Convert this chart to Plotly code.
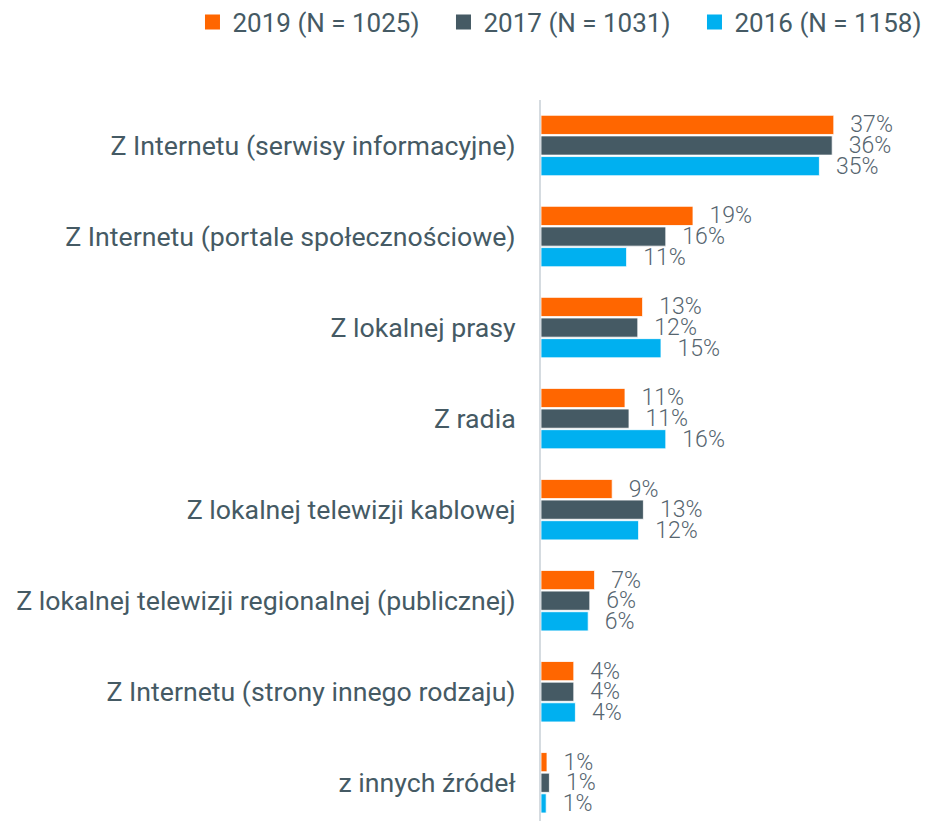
import plotly.graph_objects as go

categories = [
    "Z Internetu (serwisy informacyjne)",
    "Z Internetu (portale społecznościowe)",
    "Z lokalnej prasy",
    "Z radia",
    "Z lokalnej telewizji kablowej",
    "Z lokalnej telewizji regionalnej (publicznej)",
    "Z Internetu (strony innego rodzaju)",
    "z innych źródeł",
]
series_names = ["2019 (N = 1025)", "2017 (N = 1031)", "2016 (N = 1158)"]
v2019 = [36.6, 19.0, 12.7, 10.5, 8.9, 6.7, 4.1, 0.75]
v2017 = [36.4, 15.6, 12.1, 11.0, 12.8, 6.1, 4.1, 1.05]
v2016 = [34.8, 10.7, 15.0, 15.6, 12.2, 5.9, 4.3, 0.65]
colors = ["#ff6600", "#455a64", "#00b0f0"]

TEXT = "#455a64"
fig = go.Figure()
for name, vals, col in zip(series_names, [v2019, v2017, v2016], colors):
    fig.add_trace(go.Bar(
        y=categories, x=vals, orientation="h", name=name,
        marker=dict(color=col, line=dict(color="white", width=0.8)),
        texttemplate="\u00a0\u00a0\u200a%{x:.0f}%", textposition="outside",
        constraintext="none",
        outsidetextfont=dict(family="Roboto", size=23, color="#56656f", weight=300),
        cliponaxis=False, showlegend=False,
    ))
for name, col in zip(series_names, colors):
    fig.add_trace(go.Scatter(
        x=[None], y=[None], mode="markers", name=name,
        marker=dict(symbol="square", size=15, color=col),
    ))

fig.update_layout(
    width=924, height=813,
    margin=dict(l=533, r=7, t=92, b=0, autoexpand=False),
    paper_bgcolor="white", plot_bgcolor="white",
    barmode="group", bargap=0.32, bargroupgap=0.07,
    font=dict(family="Roboto", color=TEXT),
    legend=dict(orientation="h",
                x=-0.9076, y=1.108, xanchor="left", yanchor="middle",
                font=dict(family="Roboto", size=26, color=TEXT),
                entrywidth=206, itemwidth=30, traceorder="normal"),
    xaxis=dict(range=[0, 48], visible=False),
    yaxis=dict(categoryorder="array", categoryarray=categories,
               range=[7.42, -0.5], showline=True, linecolor="#d5dbe0",
               linewidth=2, showgrid=False, ticks="", ticklabelstandoff=18,
               tickfont=dict(family="Roboto", size=26.7, color=TEXT)),
)
fig.write_html("out.html")
